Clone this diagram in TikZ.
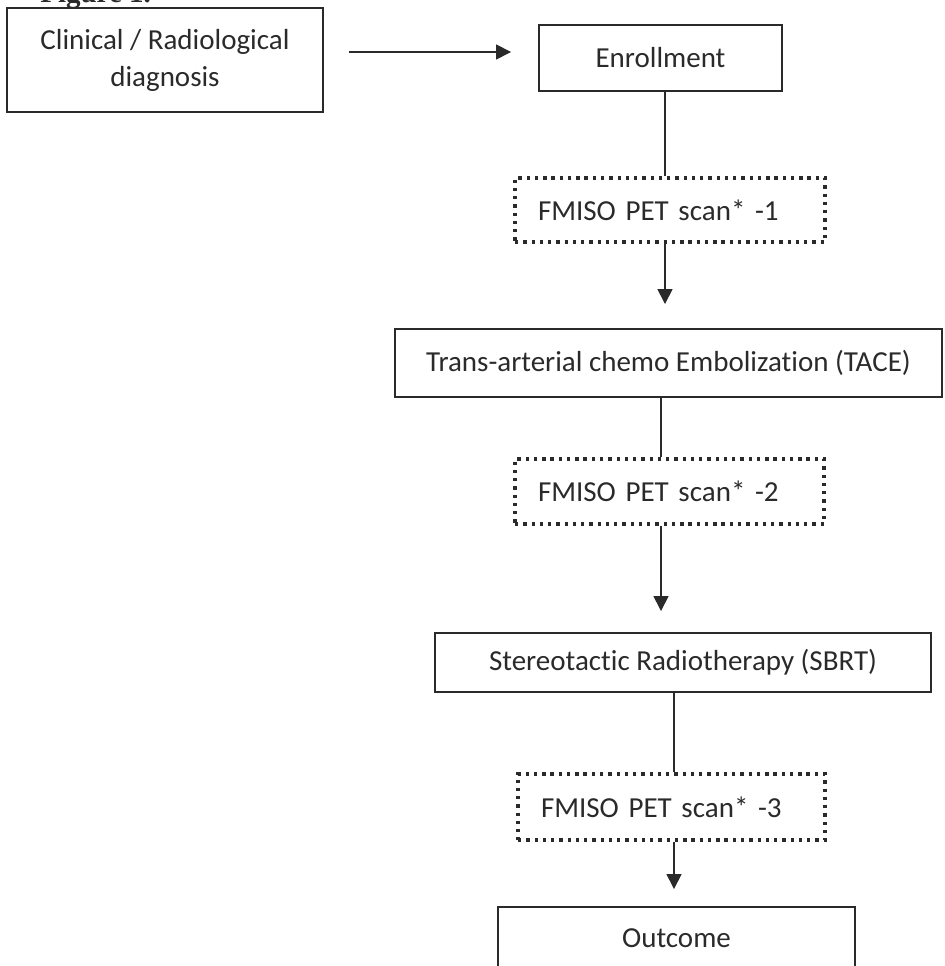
\documentclass[tikz,border=0pt]{standalone}
\usepackage{fontspec}
\setmainfont{Carlito}[Ligatures=NoCommon]
\newfontfamily\figfont{Liberation Serif}
\usetikzlibrary{arrows.meta}
\definecolor{ink}{HTML}{2A2A2A}

\begin{document}
\begin{tikzpicture}[box/.style={draw=ink, line width=1.1pt, text=ink, align=center, inner sep=0pt,
        font=\fontsize{16.5}{21}\selectfont},
    dotbox/.style={box, line width=1.9pt, dash pattern=on 1.9pt off 2.8pt, align=left, inner xsep=0.46cm},
    link/.style={draw=ink, line width=0.9pt},
    arr/.style={link, -{Triangle[length=8.5pt, width=8.5pt]}}]
        \useasboundingbox (0,0) rectangle (18.88,-19.32);
        \node[anchor=base west, inner sep=0pt, text=ink, font=\figfont\bfseries\fontsize{16.5}{20}\selectfont] (fig) at (0.8,-0.05) {Figure 1.};

        \node[box, minimum width=6.32cm, minimum height=2.08cm] (clin) at (3.30,-1.20) {Clinical / Radiological\\diagnosis};
        \node[box, minimum width=4.86cm, minimum height=1.32cm] (enroll) at (13.21,-1.16) {Enrollment};
        \node[dotbox, text width=5.28cm, minimum height=1.28cm] (scan1) at (13.40,-4.20) {FMISO PET scan* -1};
        \node[box, minimum width=10.94cm, minimum height=1.36cm] (tace) at (13.37,-7.26) {Trans-arterial chemo Embolization (TACE)};
        \node[dotbox, text width=5.26cm, minimum height=1.30cm] (scan2) at (13.39,-9.83) {FMISO PET scan* -2};
        \node[box, minimum width=9.92cm, minimum height=1.18cm] (sbrt) at (13.66,-13.25) {Stereotactic Radiotherapy (SBRT)};
        \node[dotbox, text width=5.22cm, minimum height=1.32cm] (scan3) at (13.43,-16.14) {FMISO PET scan* -3};
        \node[box, minimum width=7.14cm, minimum height=1.24cm] (outcome) at (13.53,-18.76) {Outcome};

        \draw[arr, shorten <=0.50cm, shorten >=0.54cm] ([yshift=0.16cm]clin.east) -- ([yshift=0.16cm]clin.east -| enroll.west);
        \draw[link] ([xshift=0.09cm]enroll.south) -- ([xshift=0.09cm]enroll.south |- scan1.north);
        \draw[arr, shorten >=0.48cm] ([xshift=-0.10cm]scan1.south) -- ([xshift=-0.10cm]scan1.south |- tace.north);
        \draw[link] ([xshift=-0.15cm]tace.south) -- ([xshift=-0.15cm]tace.south |- scan2.north);
        \draw[arr, shorten >=0.42cm] ([xshift=-0.17cm]scan2.south) -- ([xshift=-0.17cm]scan2.south |- sbrt.north);
        \draw[link] ([xshift=0.05cm]scan3.north |- sbrt.south) -- ([xshift=0.05cm]scan3.north);
        \draw[arr, shorten >=0.34cm] ([xshift=0.05cm]scan3.south) -- ([xshift=0.05cm]scan3.south |- outcome.north);
      \end{tikzpicture}
\end{document}
